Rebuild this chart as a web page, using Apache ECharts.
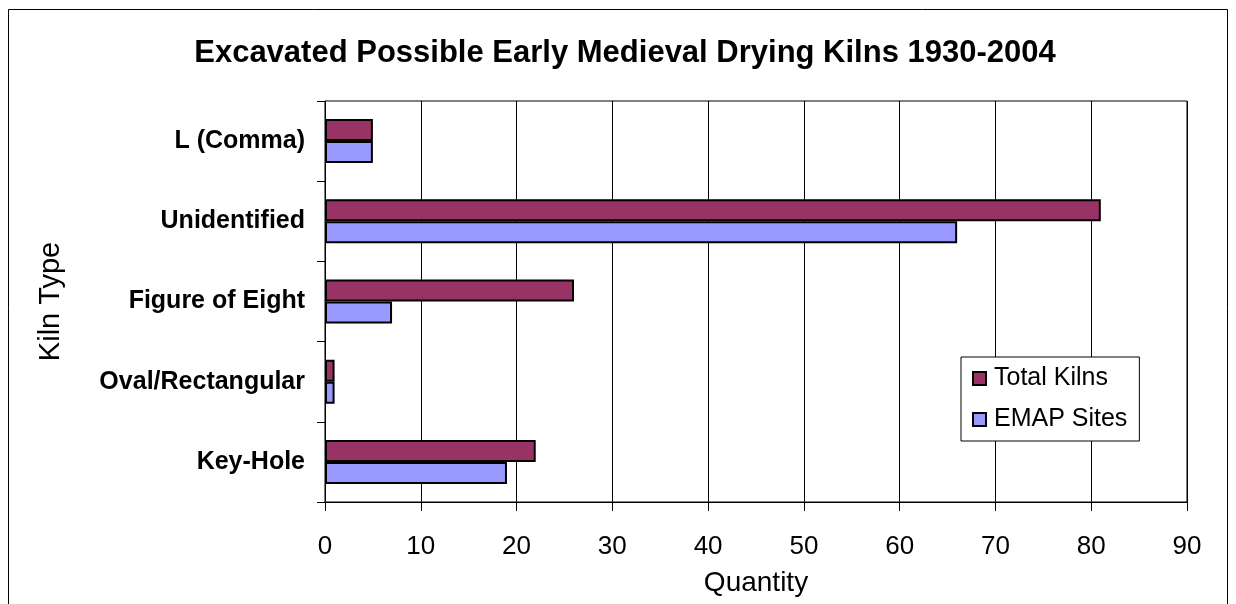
<!DOCTYPE html>
<html>
<head>
<meta charset="utf-8">
<script src="https://cdn.jsdelivr.net/npm/echarts@6/dist/echarts.min.js"></script>
<style>
  html, body { margin: 0; padding: 0; background: #fff; }
  #main { width: 1236px; height: 604px; }
</style>
</head>
<body>
<div id="main"></div>
<script>
// kiln types, bottom to top as drawn
const kilnTypes = ['Key-Hole', 'Oval/Rectangular', 'Figure of Eight', 'Unidentified', 'L (Comma)'];
const totalKilns = [22, 1, 26, 81, 5];
const emapSites = [19, 1, 7, 66, 5];

const chart = echarts.init(document.getElementById('main'));
const font = 'Liberation Sans, Arial, sans-serif';

chart.setOption({
  animation: false,
  backgroundColor: '#fff',
  textStyle: { fontFamily: font, color: '#000' },
  title: {
    text: 'Excavated Possible Early Medieval Drying Kilns 1930-2004',
    left: 620,
    top: 33,
    textAlign: 'center',
    textStyle: { fontFamily: font, fontSize: 31, fontWeight: 'bold', color: '#000' }
  },
  // outer chart border
  graphic: [{
    type: 'rect',
    shape: { x: 8.5, y: 9.5, width: 1219, height: 700 },
    style: { fill: 'none', stroke: '#000', lineWidth: 1 },
    silent: true
  }],
  legend: {
    orient: 'vertical',
    left: 961,
    top: 357,
    data: ['Total Kilns', 'EMAP Sites'],
    backgroundColor: '#fff',
    borderColor: '#000',
    borderWidth: 1,
    padding: [9, 12, 9, 11],
    itemWidth: 13,
    itemHeight: 13,
    itemGap: 16,
    icon: 'rect',
    textStyle: { fontFamily: font, fontSize: 25, color: '#000', padding: [0, 0, 0, 3] }
  },
  grid: {
    left: 325,
    top: 101,
    width: 862,
    height: 401,
    show: true,
    borderColor: '#000',
    borderWidth: 1
  },
  xAxis: {
    type: 'value',
    min: 0,
    max: 90,
    interval: 10,
    name: 'Quantity',
    nameLocation: 'middle',
    nameGap: 67,
    nameTextStyle: { fontFamily: font, fontSize: 28, color: '#000' },
    axisLine: { show: true, lineStyle: { color: '#000', width: 1 } },
    axisTick: { show: true, length: 9, lineStyle: { color: '#000' } },
    axisLabel: { fontFamily: font, fontSize: 26, color: '#000', margin: 32 },
    splitLine: { show: true, lineStyle: { color: '#000', width: 1 } }
  },
  yAxis: {
    type: 'category',
    data: kilnTypes,
    name: 'Kiln Type',
    nameLocation: 'middle',
    nameGap: 260,
    nameRotate: 90,
    nameTextStyle: { fontFamily: font, fontSize: 29, color: '#000' },
    axisLine: { show: true, lineStyle: { color: '#000', width: 1 } },
    axisTick: { show: true, length: 8, lineStyle: { color: '#000' } },
    axisLabel: { fontFamily: font, fontSize: 25, fontWeight: 'bold', color: '#000', margin: 20 },
    splitLine: { show: false }
  },
  series: [
    {
      name: 'Total Kilns',
      type: 'bar',
      data: totalKilns,
      barWidth: 22,
      barGap: '0%',
      itemStyle: { color: '#993366', borderColor: '#000', borderWidth: 2 }
    },
    {
      name: 'EMAP Sites',
      type: 'bar',
      data: emapSites,
      barWidth: 22,
      barGap: '0%',
      itemStyle: { color: '#9999FF', borderColor: '#000', borderWidth: 2 }
    }
  ]
});
</script>
</body>
</html>
